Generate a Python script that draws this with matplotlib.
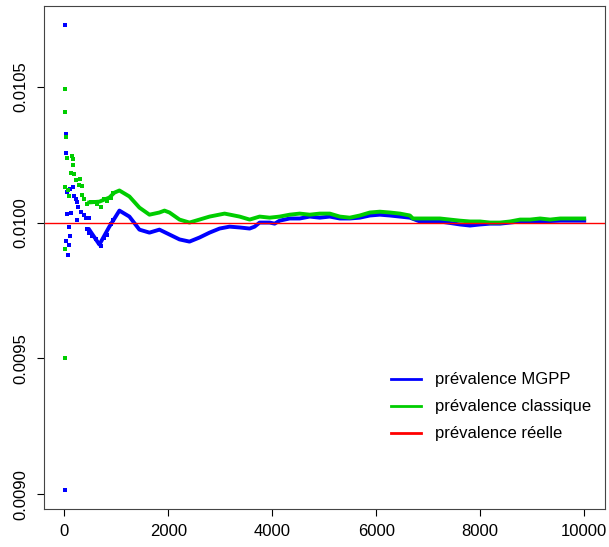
import matplotlib
matplotlib.use("Agg")
import matplotlib.pyplot as plt
from matplotlib.lines import Line2D

plt.rcParams['font.family'] = ['Liberation Sans', 'DejaVu Sans']

# early, scattered estimates
mgpp_x0 = [10, 10, 39, 39, 58, 77, 116, 173, 193, 231, 250, 270, 328, 385, 250, 135, 58,
           424, 482, 96, 116, 39, 96, 77, 443, 482, 539, 617, 674, 713, 771, 829, 906, 944]
mgpp_y0 = [0.010728, 0.009015, 0.010327, 0.010257, 0.010114, 0.010118, 0.010125, 0.010129,
           0.010096, 0.010085, 0.010074, 0.010059, 0.010040, 0.010026, 0.010011, 0.010037,
           0.010033, 0.010015, 0.010015, 0.009982, 0.009949, 0.009934, 0.009919, 0.009879,
           0.009978, 0.009963, 0.009949, 0.009938, 0.009926, 0.009912, 0.009945, 0.009956,
           0.009993, 0.010011]
clas_x0 = [10, 19, 39, 58, 154, 173, 173, 135, 193, 231, 308, 289, 347, 19, 77, 96, 347,
           385, 443, 520, 578, 636, 713, 771, 829, 906, 944, 19, 10]
clas_y0 = [0.010408, 0.010493, 0.010316, 0.010239, 0.010246, 0.010232, 0.010210, 0.010184,
           0.010180, 0.010158, 0.010162, 0.010140, 0.010136, 0.010129, 0.010121, 0.010096,
           0.010103, 0.010085, 0.010070, 0.010074, 0.010077, 0.010070, 0.010059, 0.010085,
           0.010081, 0.010092, 0.010110, 0.009904, 0.009500]

# dense part of the curves
mgpp_x = [480, 675, 867, 1060, 1252, 1445, 1638, 1830, 2023, 2216, 2408, 2601, 2794, 2987,
          3179, 3372, 3565, 3661, 3757, 3950, 4046, 4143, 4335, 4528, 4721, 4913, 5106, 5299,
          5491, 5684, 5877, 6069, 6262, 6455, 6647, 6840, 7225, 7611, 7803, 7996, 8189, 8382,
          8574, 8767, 9152, 9538, 10000]
mgpp_y = [0.009974, 0.009919, 0.009985, 0.010044, 0.010022, 0.009974, 0.009963, 0.009974,
          0.009956, 0.009938, 0.009930, 0.009945, 0.009963, 0.009978, 0.009985, 0.009982,
          0.009978, 0.009985, 0.010000, 0.010000, 0.009996, 0.010007, 0.010015, 0.010015,
          0.010022, 0.010018, 0.010022, 0.010015, 0.010015, 0.010018, 0.010026, 0.010029,
          0.010026, 0.010022, 0.010018, 0.010004, 0.010004, 0.009993, 0.009989, 0.009993,
          0.009996, 0.009996, 0.010000, 0.010004, 0.010004, 0.010007, 0.010007]
clas_x = [480, 675, 867, 963, 1060, 1252, 1445, 1638, 1830, 1927, 2023, 2216, 2408, 2601,
          2794, 3083, 3372, 3565, 3757, 3950, 4143, 4335, 4528, 4721, 4913, 5106, 5299, 5491,
          5684, 5877, 6069, 6262, 6455, 6647, 6705, 6840, 7225, 7611, 7803, 7996, 8189, 8382,
          8574, 8767, 8960, 9152, 9345, 9538, 9730, 10000]
clas_y = [0.010074, 0.010077, 0.010092, 0.010110, 0.010118, 0.010096, 0.010055, 0.010029,
          0.010037, 0.010044, 0.010037, 0.010011, 0.010000, 0.010011, 0.010022, 0.010033,
          0.010022, 0.010011, 0.010022, 0.010018, 0.010022, 0.010029, 0.010033, 0.010029,
          0.010033, 0.010033, 0.010022, 0.010018, 0.010026, 0.010037, 0.010040, 0.010037,
          0.010033, 0.010026, 0.010015, 0.010015, 0.010015, 0.010007, 0.010004, 0.010004,
          0.010000, 0.010000, 0.010004, 0.010011, 0.010011, 0.010015, 0.010011, 0.010015,
          0.010015, 0.010015]

prev_reelle = 0.01
labels = ['prévalence MGPP', 'prévalence classique', 'prévalence réelle']
colors = ['#0000FF', '#00CD00', '#FF0000']

fig = plt.figure(figsize=(6.09, 5.47), dpi=100)
ax = fig.add_axes([0.0723, 0.0695, 0.9211, 0.9195])

ax.plot(mgpp_x0, mgpp_y0, 's', color=colors[0], ms=2.4, mew=0)
ax.plot(mgpp_x, mgpp_y, '-', color=colors[0], lw=2.8)
ax.plot(clas_x0, clas_y0, 's', color=colors[1], ms=2.4, mew=0)
ax.plot(clas_x, clas_y, '-', color=colors[1], lw=2.8)
ax.axhline(prev_reelle, color=colors[2], lw=1)

ax.margins(x=0.04, y=0.04)
ax.set_xticks([0, 2000, 4000, 6000, 8000, 10000])
ax.set_yticks([0.0090, 0.0095, 0.0100, 0.0105])
ax.set_yticklabels(['0.0090', '0.0095', '0.0100', '0.0105'], rotation=90, va='center')
ax.tick_params(direction='out', length=5, labelsize=12, pad=6)
for s in ax.spines.values():
    s.set_color('#444444')

handles = [Line2D([], [], color=c, lw=2) for c in colors]
ax.legend(handles, labels, loc='center left', bbox_to_anchor=(0.619, 0.203),
          frameon=False, fontsize=12, handlelength=1.8, handletextpad=0.8,
          labelspacing=0.72, borderpad=0, borderaxespad=0)

fig.savefig('out.png', dpi=100)
